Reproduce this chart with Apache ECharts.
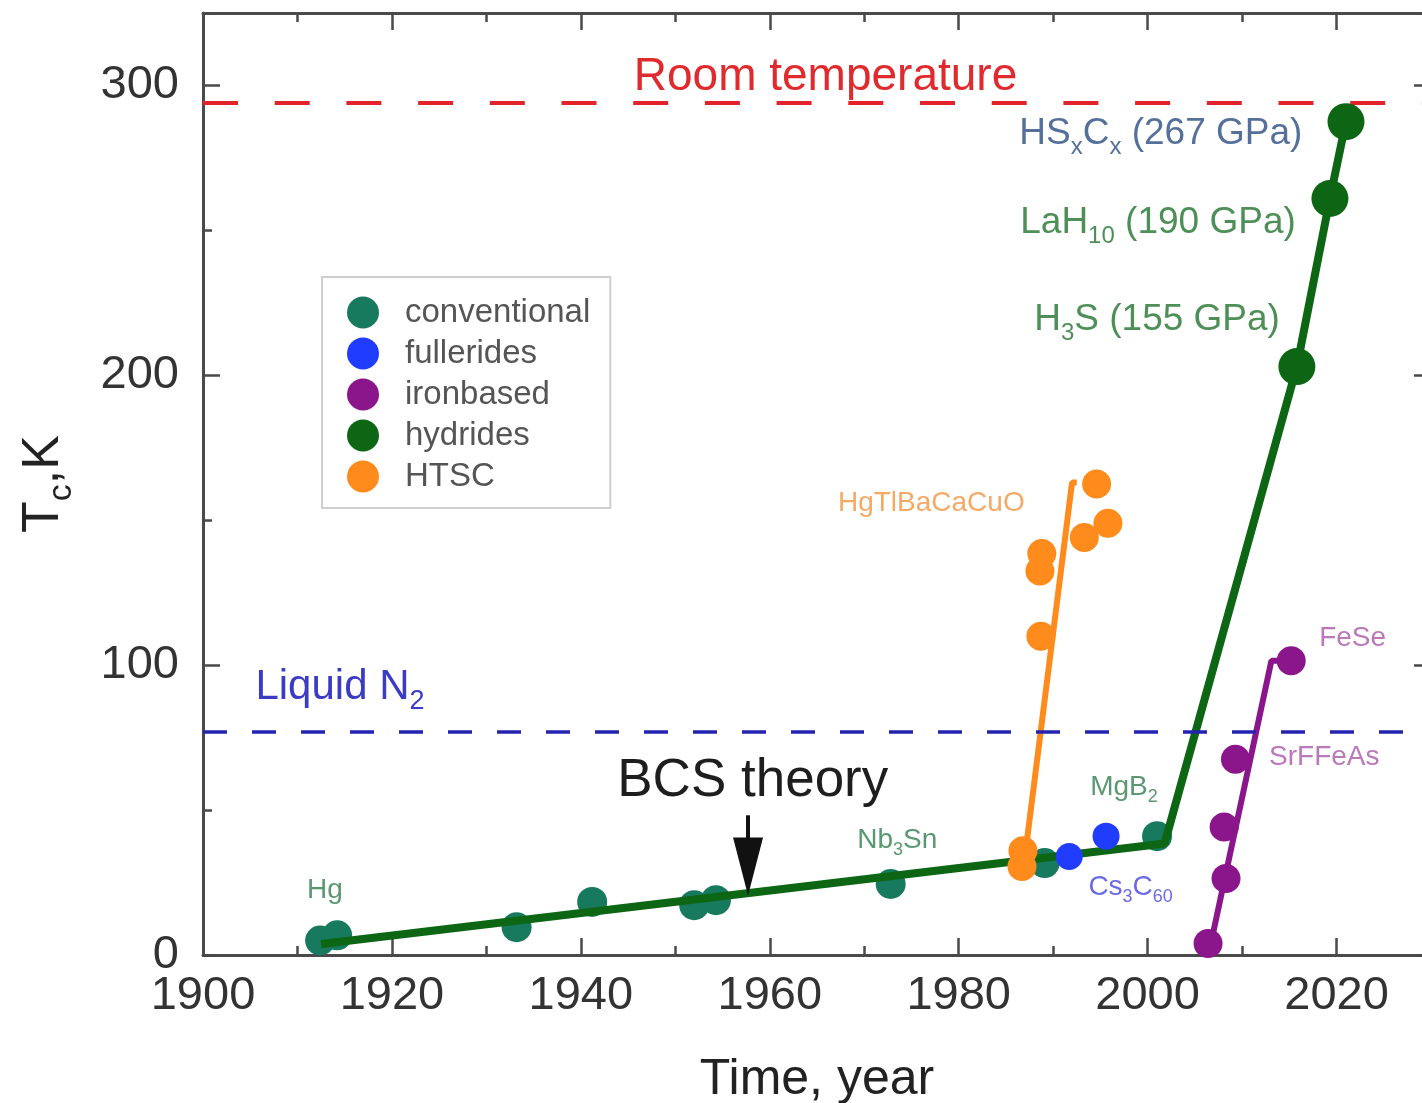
<!DOCTYPE html>
<html>
<head>
<meta charset="utf-8">
<script src="https://cdn.jsdelivr.net/npm/echarts@6/dist/echarts.min.js"></script>
<style>
  html, body { margin: 0; padding: 0; background: #fff; }
  #chart { width: 1422px; height: 1103px; }
</style>
</head>
<body>
<div id="chart"></div>
<script>
const chart = echarts.init(document.getElementById('chart'));
const FONT = '"Liberation Sans", Arial, Helvetica, sans-serif';

// [year, Tc in K]
const conventional = [[1912.4, 5], [1914.2, 6.8], [1933.2, 9.6], [1941.2, 18.3], [1952, 17.2],
  [1954.3, 18.9], [1972.8, 24.5], [1989.1, 31.7], [2001, 41]];
const fullerides = [[1991.7, 34], [1995.6, 41]];
const ironbased = [[2006.4, 4], [2008.3, 26.4], [2008.1, 44.2], [2009.3, 67.5], [2015.2, 101.5]];
const hydrides = [[2015.8, 203], [2019.3, 261], [2021, 287.5]];
const htsc = [[1986.7, 30.5], [1986.8, 36], [1988.7, 110], [1988.6, 132.5], [1988.8, 138.5],
  [1993.3, 144], [1994.6, 162.5], [1995.8, 149]];

// guide lines drawn in the figure
const hydrideTrend = [[1912.5, 3.8], [2001.8, 38.5], [2015.8, 203], [2019.3, 261], [2021, 287.5], [2021.8, 292]];
const htscTrend = [[1986.9, 31], [1992, 163], [1992.5, 163]];
const ironTrend = [[2006.7, 4], [2013.1, 101.5], [2015.2, 101.5]];

const roomTemp = 294;
const liquidN2 = 77;
const bcsArrow = [[1957.7, 48.2], [1957.7, 30.5]];

// annotations (underscore = subscript)
const noteText = ['Room temperature', 'Liquid N_2', 'BCS theory', 'Hg', 'Nb_3Sn', 'MgB_2', 'Cs_3C_60',
  'HgTlBaCaCuO', 'FeSe', 'SrFFeAs', 'H_3S (155 GPa)', 'LaH_10 (190 GPa)', 'HS_xC_x (267 GPa)'];
const noteYear = [1965.9, 1914.5, 1958.2, 1912.9, 1973.5, 1997.5, 1998.2,
  1977.1, 2021.7, 2018.7, 2001, 2001.1, 2001.4];
const noteTc = [302.8, 92.3, 60, 22.4, 39.6, 57.9, 23.4,
  155.7, 109.2, 68.2, 219, 252.5, 283.2];

// font size and colour for each annotation
const noteStyle = [
  [46, '#e02a2e'], [42, '#3b3bc6'], [53, '#1e1e1e'], [28, '#5a9872'], [28, '#5a9872'], [28, '#5a9872'],
  [28, '#6a6ae4'], [28, '#f4aa66'], [28, '#bb78bb'], [28, '#bb78bb'],
  [37, '#4e8f58'], [37, '#4e8f58'], [37, '#56709c']
];

const colors = {
  conventional: '#17795d',
  fullerides: '#1f3cff',
  ironbased: '#8b168b',
  hydrides: '#0c6614',
  HTSC: '#ff8b1c'
};

function richText(t) {
  return t.replace(/_([0-9a-z]+)/g, '{s|$1}');
}

const notes = noteText.map((t, i) => {
  const size = noteStyle[i][0];
  const color = noteStyle[i][1];
  return {
    value: [noteYear[i], noteTc[i]],
    label: {
      show: true,
      position: 'inside',
      formatter: richText(t),
      fontSize: size,
      fontFamily: FONT,
      color: color,
      opacity: 1,
      rich: {
        s: {
          fontSize: Math.round(size * 0.65),
          fontFamily: FONT,
          color: color,
          padding: [Math.round(size * 0.7), 0, 0, 0]
        }
      }
    }
  };
});

const axisColor = '#4a4a4a';

function xAx(position, interval, tickLen, main) {
  return {
    type: 'value', min: 1900, max: 2030, interval: interval, position: position,
    axisLine: { show: main, onZero: false, lineStyle: { color: axisColor, width: 3 } },
    axisTick: { show: true, inside: true, length: tickLen, lineStyle: { color: axisColor, width: 2.5 } },
    axisLabel: {
      show: main && position === 'bottom', margin: 18, fontSize: 47, color: '#333',
      fontFamily: FONT, showMaxLabel: false,
      formatter: v => String(v)
    },
    splitLine: { show: false }
  };
}

function yAx(position, interval, tickLen, main) {
  return {
    type: 'value', min: 0, max: 325, interval: interval, position: position,
    axisLine: { show: main, onZero: false, lineStyle: { color: axisColor, width: 3 } },
    axisTick: { show: true, inside: true, length: tickLen, lineStyle: { color: axisColor, width: 2.5 } },
    axisLabel: {
      show: main && position === 'left', margin: 24, fontSize: 47, color: '#333',
      fontFamily: FONT, showMaxLabel: false
    },
    splitLine: { show: false }
  };
}

const xAxes = [xAx('bottom', 20, 17, true), xAx('bottom', 10, 9, false),
  xAx('top', 20, 17, true), xAx('top', 10, 9, false)];
xAxes[0].name = 'Time, year';
xAxes[0].nameLocation = 'middle';
xAxes[0].nameGap = 100;
xAxes[0].nameTextStyle = { fontSize: 50, color: '#222', fontFamily: FONT };

const yAxes = [yAx('left', 100, 17, true), yAx('left', 50, 9, false),
  yAx('right', 100, 17, true), yAx('right', 50, 9, false)];
yAxes[0].name = 'T{s|c},K';
yAxes[0].nameLocation = 'middle';
yAxes[0].nameRotate = 90;
yAxes[0].nameGap = 124;
yAxes[0].nameTextStyle = {
  fontSize: 52, color: '#222', fontFamily: FONT,
  rich: { s: { fontSize: 34, color: '#222', fontFamily: FONT, padding: [36, 0, 0, 0] } }
};

function dots(name, data, size, z) {
  return {
    name: name, type: 'scatter', data: data, symbolSize: size, z: z, silent: true,
    itemStyle: { color: colors[name], opacity: 1 }
  };
}

function trend(name, data, color, width, z) {
  return {
    name: name, type: 'line', data: data, showSymbol: false, symbol: 'none', z: z, silent: true,
    lineStyle: { color: color, width: width }
  };
}

chart.setOption({
  animation: false,
  backgroundColor: '#fff',
  grid: { left: 203, top: 13, width: 1228, height: 942, outerBoundsMode: 'none', containLabel: false },
  xAxis: xAxes,
  yAxis: yAxes,
  legend: {
    data: ['conventional', 'fullerides', 'ironbased', 'hydrides', 'HTSC'],
    orient: 'vertical',
    left: 322,
    top: 277,
    icon: 'circle',
    itemWidth: 74,
    itemHeight: 32,
    itemGap: 8,
    padding: [19, 20, 15, 25],
    borderColor: '#cfcfcf',
    borderWidth: 2,
    selectedMode: false,
    textStyle: { fontSize: 33, color: '#555', fontFamily: FONT }
  },
  series: [
    dots('conventional', conventional, 30, 2),
    trend('hydrides line', hydrideTrend, colors.hydrides, 8, 3),
    dots('fullerides', fullerides, 27, 4),
    trend('HTSC line', htscTrend, colors.HTSC, 6, 4),
    dots('HTSC', htsc, 29, 4),
    trend('ironbased line', ironTrend, colors.ironbased, 6, 4),
    dots('ironbased', ironbased, 29, 4),
    dots('hydrides', hydrides, 37, 5),
    {
      name: 'notes', type: 'scatter', data: notes, symbolSize: 1, z: 6, silent: true,
      itemStyle: { color: 'rgba(0,0,0,0)', opacity: 1 },
      markLine: {
        silent: true,
        symbol: 'none',
        label: { show: false },
        data: [
          { yAxis: roomTemp, lineStyle: { color: '#e3232b', width: 4, type: [35, 36.7] } },
          { yAxis: liquidN2, lineStyle: { color: '#2323b0', width: 3.5, type: [24, 25] } },
          [
            { coord: bcsArrow[0], symbol: 'none' },
            { coord: bcsArrow[1], symbol: 'triangle', symbolSize: [30, 58] }
          ]
        ],
        lineStyle: { color: '#111', width: 4, type: 'solid' }
      }
    }
  ]
});
</script>
</body>
</html>
